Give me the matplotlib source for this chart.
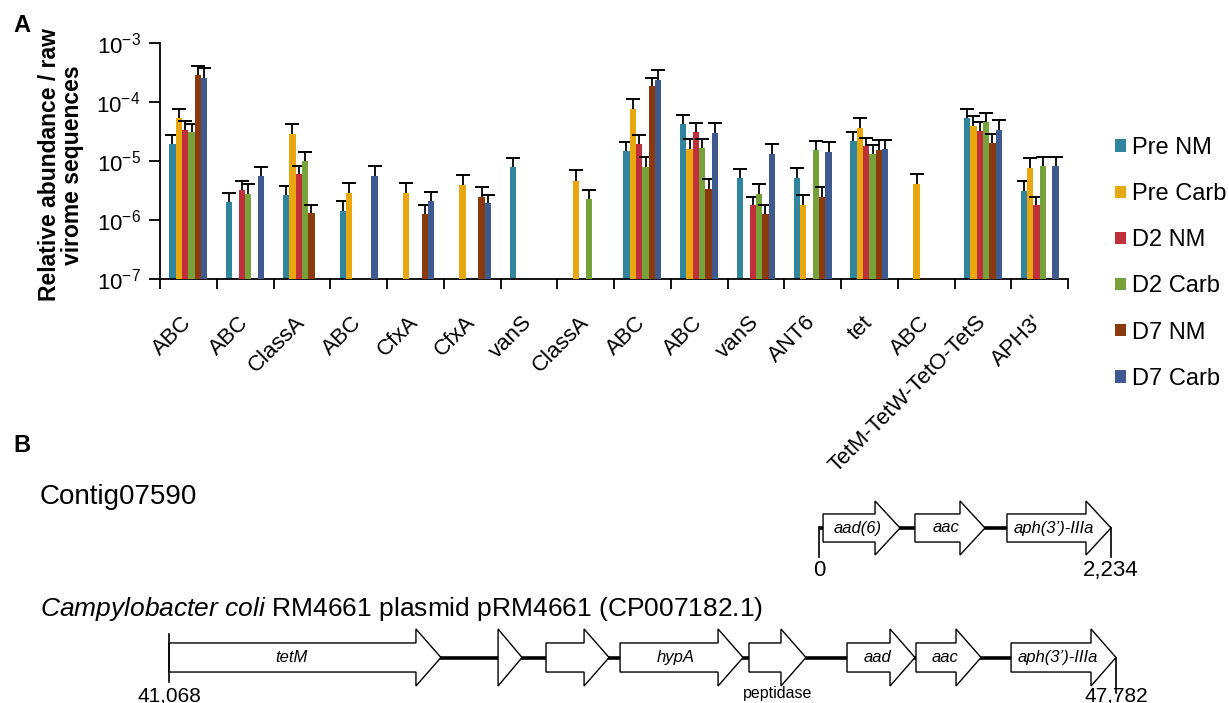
import numpy as np
import matplotlib
matplotlib.use('Agg')
import matplotlib.pyplot as plt
from matplotlib.patches import Polygon

plt.rcParams['font.family'] = ['Liberation Sans', 'DejaVu Sans']
plt.rcParams['mathtext.fontset'] = 'custom'
plt.rcParams['mathtext.rm'] = 'Liberation Sans'
plt.rcParams['mathtext.it'] = 'Liberation Sans:italic'
plt.rcParams['mathtext.bf'] = 'Liberation Sans:bold'

nan = np.nan

# ---- Panel A data ----
categories = ['ABC', 'ABC', 'ClassA', 'ABC', 'CfxA', 'CfxA', 'vanS', 'ClassA',
              'ABC', 'ABC', 'vanS', 'ANT6', 'tet', 'ABC', 'TetM-TetW-TetO-TetS', "APH3'"]
series_names = ['Pre NM', 'Pre Carb', 'D2 NM', 'D2 Carb', 'D7 NM', 'D7 Carb']
colors = ['#31859C', '#E8A70F', '#C0303A', '#77A23A', '#8A3A0C', '#3F5A8E']

pre_nm = [1.94e-5, 2.0e-6, 2.68e-6, 1.40e-6, nan, nan, 7.9e-6, nan,
          1.5e-5, 4.24e-5, 5.15e-6, 5.2e-6, 2.21e-5, nan, 5.36e-5, 3.1e-6]
pre_nm_err = [0.81e-5, 0.83e-6, 1.12e-6, 0.67e-6, nan, nan, 3.3e-6, nan,
              0.6e-5, 1.76e-5, 2.25e-6, 2.5e-6, 0.93e-5, nan, 2.24e-5, 1.42e-6]

pre_carb = [5.4e-5, nan, 2.9e-5, 2.87e-6, 2.87e-6, 3.97e-6, nan, 4.64e-6,
            7.7e-5, 1.6e-5, nan, 1.77e-6, 3.63e-5, 4.07e-6, 3.97e-5, 7.7e-6]
pre_carb_err = [2.3e-5, nan, 1.3e-5, 1.37e-6, 1.37e-6, 1.93e-6, nan, 2.31e-6,
                3.5e-5, 0.76e-5, nan, 0.85e-6, 1.73e-5, 1.93e-6, 1.73e-5, 3.5e-6]

d2_nm = [3.4e-5, 3.24e-6, 6.0e-6, nan, nan, nan, nan, nan,
         1.94e-5, 3.1e-5, 1.77e-6, nan, 1.77e-5, nan, 3.27e-5, 1.77e-6]
d2_nm_err = [1.4e-5, 1.26e-6, 2.3e-6, nan, nan, nan, nan, nan,
             0.81e-5, 1.3e-5, 0.73e-6, nan, 0.68e-5, nan, 1.25e-5, 0.73e-6]

d2_carb = [3.06e-5, 2.8e-6, 9.9e-6, nan, nan, nan, nan, 2.3e-6,
           7.9e-6, 1.66e-5, 2.79e-6, 1.56e-5, 1.31e-5, nan, 4.52e-5, 8.3e-6]
d2_carb_err = [1.24e-5, 1.3e-6, 4.1e-6, nan, nan, nan, nan, 0.97e-6,
               3.8e-6, 0.7e-5, 1.34e-6, 0.65e-5, 0.54e-5, nan, 1.98e-5, 3.5e-6]

d7_nm = [2.83e-4, nan, 1.32e-6, nan, 1.28e-6, 2.5e-6, nan, nan,
         1.85e-4, 3.35e-6, 1.28e-6, 2.5e-6, 1.56e-5, nan, 2.02e-5, nan]
d7_nm_err = [1.17e-4, nan, 0.5e-6, nan, 0.54e-6, 1.1e-6, nan, nan,
             0.7e-4, 1.6e-6, 0.54e-6, 1.1e-6, 0.74e-5, nan, 0.85e-5, nan]

d7_carb = [2.55e-4, 5.5e-6, nan, 5.5e-6, 2.07e-6, 1.94e-6, nan, nan,
           2.33e-4, 2.99e-5, 1.31e-5, 1.44e-5, 1.62e-5, nan, 3.4e-5, 8.3e-6]
d7_carb_err = [1.15e-4, 2.4e-6, nan, 2.6e-6, 0.93e-6, 0.76e-6, nan, nan,
               1.11e-4, 1.41e-5, 0.63e-5, 0.66e-5, 0.68e-5, nan, 1.6e-5, 3.6e-6]

series_vals = [pre_nm, pre_carb, d2_nm, d2_carb, d7_nm, d7_carb]
series_errs = [pre_nm_err, pre_carb_err, d2_nm_err, d2_carb_err, d7_nm_err, d7_carb_err]

# ---- Panel B data ----
contig_name = 'Contig07590'
contig_span = [0, 2234]
contig_genes = ['aad(6)', 'aac', 'aph(3’)-IIIa']
contig_starts = [31, 734, 1438]
contig_ends = [620, 1270, 2234]

plasmid_name = r"$\it{Campylobacter\ coli}$ RM4661 plasmid pRM4661 (CP007182.1)"
plasmid_span = [41068, 47782]
plasmid_genes = ['tetM', '', '', 'hypA', '', 'aad', 'aac', 'aph(3’)-IIIa']
plasmid_starts = [41068, 43401, 43741, 44266, 45180, 45875, 46364, 47038]
plasmid_ends = [42996, 43571, 44188, 45138, 45584, 46357, 46825, 47782]

W, H = 1229, 703
fig = plt.figure(figsize=(W / 100, H / 100), dpi=100)


def box(x0, y0, x1, y1):
    return [x0 / W, 1 - y1 / H, (x1 - x0) / W, (y1 - y0) / H]


# ---------------- Panel A ----------------
ax = fig.add_axes(box(160, 43, 1068, 279))
x = np.arange(len(categories))
bw = 0.112
handles = []
for i in range(len(series_names)):
    vals = np.array(series_vals[i])
    errs = np.array(series_errs[i])
    pos = x + (i - 2.5) * bw
    b = ax.bar(pos, vals, bw, color=colors[i], label=series_names[i], zorder=2 + 2 * i)
    handles.append(b)
    ax.errorbar(pos, vals, yerr=[np.zeros(len(errs)), errs], fmt='none', ecolor='black',
                elinewidth=1.3, capsize=0, zorder=3 + 2 * i)
    ax.plot(pos, vals + errs, ls='none', marker='_', ms=9.5, mew=1.4, color='black',
            zorder=3 + 2 * i)

ax.set_yscale('log')
ax.set_ylim(1e-7, 1e-3)
ax.set_xlim(-0.5, len(categories) - 0.5)
ax.set_yticks([1e-7, 1e-6, 1e-5, 1e-4, 1e-3])
ax.set_yticklabels([r'$10^{-7}$', r'$10^{-6}$', r'$10^{-5}$', r'$10^{-4}$', r'$10^{-3}$'])
ax.yaxis.set_minor_locator(matplotlib.ticker.NullLocator())
ax.tick_params(axis='y', which='major', length=8, width=1.3, labelsize=16, pad=6)

ax.set_xticks(x)
ax.set_xticklabels(categories, rotation=45, ha='right', va='center', rotation_mode='anchor')
ax.set_xticks(np.arange(-0.5, len(categories)), minor=True)
ax.tick_params(axis='x', which='major', length=0, labelsize=16, pad=29)
ax.tick_params(axis='x', which='minor', length=7, width=1.3, direction='out')

for s in ['top', 'right']:
    ax.spines[s].set_visible(False)
for s in ['left', 'bottom']:
    ax.spines[s].set_linewidth(1.3)

fig.text(61 / W, 1 - 165 / H, 'Relative abundance / raw\nvirome sequences', rotation=90,
         ha='center', va='center', multialignment='center', fontsize=16.5,
         fontweight='bold', linespacing=1.0)

ax.legend(handles=handles, loc='center left', bbox_to_anchor=(1.052, 0.066), frameon=False,
          fontsize=17, handlelength=0.45, handleheight=0.45, handletextpad=0.25,
          labelspacing=1.02, borderpad=0, borderaxespad=0)

fig.text(22 / W, 1 - 25 / H, 'A', fontsize=17, fontweight='bold', ha='center', va='center')
fig.text(22 / W, 1 - 446 / H, 'B', fontsize=17, fontweight='bold', ha='center', va='center')


# ---------------- Panel B ----------------
def draw_map(axb, span, names, starts, ends, head_px, body=0.51):
    x0, x1 = span
    axb.set_xlim(x0, x1)
    axb.set_ylim(-1, 1)
    axb.axis('off')
    width_px = axb.get_position().width * W
    hl = head_px * (x1 - x0) / width_px
    axb.plot([x0, x1], [0, 0], color='black', lw=2.6, zorder=1, clip_on=False,
             solid_capstyle='butt')
    for name, s, e in zip(names, starts, ends):
        if e - s <= hl * 1.05:
            pts = [(s, -1), (s, 1), (e, 0)]
        else:
            h0 = e - hl
            pts = [(s, -body), (s, body), (h0, body), (h0, 1), (e, 0), (h0, -1), (h0, -body)]
        axb.add_patch(Polygon(pts, closed=True, facecolor='white', edgecolor='black',
                              lw=1.0, zorder=2, clip_on=False, joinstyle='miter'))
        if name:
            axb.text(s + 0.45 * (e - s), 0, name, style='italic', fontsize=12,
                     ha='center', va='center', zorder=3)


# contig
axc = fig.add_axes(box(819, 501, 1111, 555))
draw_map(axc, contig_span, contig_genes, contig_starts, contig_ends, 25, body=0.52)
axc.plot([contig_span[0]] * 2, [0.05, -1.07], color='black', lw=1.2, clip_on=False)
axc.plot([contig_span[1]] * 2, [0, -1.07], color='black', lw=1.2, clip_on=False)
axc.text(contig_span[0], -1.2, '0', fontsize=16, ha='center', va='top')
axc.text(contig_span[1], -1.2, f'{contig_span[1]:,}', fontsize=16, ha='center', va='top')
fig.text(40 / W, 1 - 497 / H, contig_name, fontsize=20, ha='left', va='center')

# plasmid
axp = fig.add_axes(box(169, 629, 1116, 686))
draw_map(axp, plasmid_span, plasmid_genes, plasmid_starts, plasmid_ends, 25, body=0.51)
axp.plot([plasmid_span[0]] * 2, [0.82, -0.86], color='black', lw=1.2, clip_on=False)
axp.plot([plasmid_span[1]] * 2, [0, -1.25], color='black', lw=1.2, clip_on=False)
fig.text(169 / W, 1 - 701 / H, f'{plasmid_span[0]:,}', fontsize=15, ha='center', va='baseline')
fig.text(1116 / W, 1 - 701 / H, f'{plasmid_span[1]:,}', fontsize=15, ha='center', va='baseline')
fig.text(778 / W, 1 - 698 / H, 'peptidase', fontsize=11.5, ha='center', va='baseline')
fig.text(40 / W, 1 - 609 / H, plasmid_name, fontsize=19, ha='left', va='center')

fig.savefig('out.png', dpi=100)
